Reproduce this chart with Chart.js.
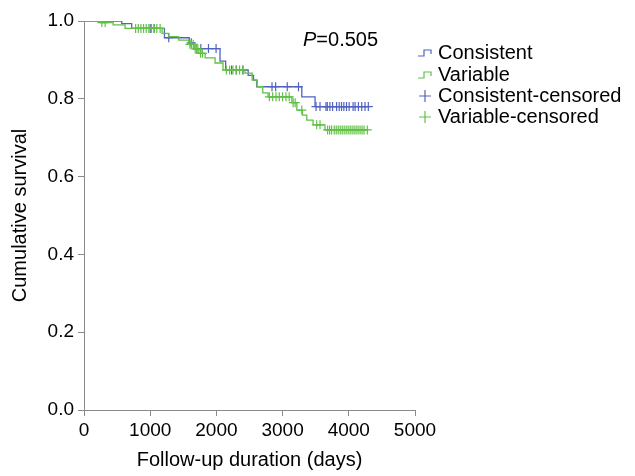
<!DOCTYPE html>
<html lang="en">
<head>
<meta charset="UTF-8" />
<title>Cumulative survival</title>
<script src="https://cdn.jsdelivr.net/npm/chart.js@4.4.0/dist/chart.umd.min.js"></script>
<style>
  html, body { margin: 0; padding: 0; background: #fff; }
  #box { width: 635px; height: 476px; }
</style>
</head>
<body>
<div id="box"><canvas id="km"></canvas></div>
<script>
// Kaplan-Meier steps: time the curve drops, and the level after the drop
const consTimes = [0, 570, 720, 1215, 1590, 1660, 2055, 2140, 2480, 2560, 2610, 3290, 3490];
const consSurv  = [1.0, 0.993, 0.981, 0.957, 0.944, 0.929, 0.897, 0.874, 0.860, 0.848, 0.831, 0.805, 0.780];
const varTimes  = [0, 240, 440, 620, 1180, 1280, 1430, 1580, 1660, 1735, 1830, 1980, 2100, 2430, 2540, 2615, 2700, 2780, 3140, 3215, 3300, 3365, 3460, 3640];
const varSurv   = [1.0, 0.996, 0.990, 0.981, 0.968, 0.960, 0.951, 0.940, 0.928, 0.917, 0.905, 0.892, 0.874, 0.866, 0.848, 0.831, 0.815, 0.805, 0.790, 0.771, 0.758, 0.745, 0.733, 0.720];

// censored observations (days)
const consCensTimes = [1000, 1060, 1280, 1620, 1765, 1880, 1995, 2230, 2300, 2400, 2840, 2895, 3070, 3240,
  3505, 3565, 3655, 3675, 3715, 3755, 3815, 3855, 3890, 3925, 3965, 4005, 4065, 4095, 4145, 4195, 4245, 4295];
const varCensTimes = [270, 320, 780, 820, 860, 900, 940, 980, 1020, 1060, 1100, 1150, 1600, 1620, 1650, 1680, 1700,
  1720, 1760, 1790, 2150, 2200, 2250, 2300, 2350, 2400, 2800, 2850, 2900, 2950, 3000, 3050, 3100, 3160, 3190, 3290,
  3515, 3565, 3680, 3710, 3740, 3780, 3810, 3840, 3870, 3900, 3930, 3960, 3990, 4020, 4050, 4080, 4110, 4140, 4170,
  4200, 4230, 4280];

const xTicks = [0, 1000, 2000, 3000, 4000, 5000];
const yTicks = [0, 0.2, 0.4, 0.6, 0.8, 1.0];
const legendLabels = ['Consistent', 'Variable', 'Consistent-censored', 'Variable-censored'];
const pText = '0.505';

const BLUE = '#5262c2';
const GREEN = '#62c046';
const FONT = "'Liberation Sans', Arial, sans-serif";

// level of the step curve at time t
function levelAt(times, surv, t) {
  let v = surv[0];
  for (let i = 0; i < times.length; i++) {
    if (times[i] <= t) v = surv[i];
  }
  return v;
}

function stepPoints(times, surv, lastCens) {
  const pts = times.map((t, i) => ({ x: t, y: surv[i] }));
  pts.push({ x: lastCens, y: surv[surv.length - 1] });
  return pts;
}

function censPoints(cens, times, surv) {
  return cens.map(t => ({ x: t, y: levelAt(times, surv, t) }));
}

// legend + P value
const extras = {
  id: 'extras',
  afterDraw(chart) {
    const ctx = chart.ctx;
    ctx.save();
    ctx.fillStyle = '#000';
    ctx.textBaseline = 'middle';
    ctx.font = 'italic 20px ' + FONT;
    ctx.fillText('P', 303, 40);
    const w = ctx.measureText('P').width;
    ctx.font = '20px ' + FONT;
    ctx.fillText('=' + pText, 303 + w, 40);

    const colors = [BLUE, GREEN, BLUE, GREEN];
    const rowY = [53, 75, 96, 117];
    legendLabels.forEach((lab, i) => {
      const y = rowY[i];
      const x0 = 418;
      ctx.strokeStyle = colors[i];
      ctx.lineWidth = 1.2;
      ctx.beginPath();
      if (i < 2) {
        ctx.moveTo(x0, y + 3);
        ctx.lineTo(x0 + 6, y + 3);
        ctx.lineTo(x0 + 6, y - 3);
        ctx.lineTo(x0 + 13, y - 3);
        ctx.lineTo(x0 + 13, y + 1);
      } else {
        ctx.moveTo(x0 + 1, y);
        ctx.lineTo(x0 + 13, y);
        ctx.moveTo(x0 + 7, y - 6);
        ctx.lineTo(x0 + 7, y + 6);
      }
      ctx.stroke();
      ctx.fillStyle = '#000';
      ctx.fillText(lab, 438, y);
    });
    ctx.restore();
  }
};

const chart = new Chart(document.getElementById('km'), {
  type: 'scatter',
  data: {
    datasets: [
      {
        label: legendLabels[0],
        data: stepPoints(consTimes, consSurv, consCensTimes[consCensTimes.length - 1]),
        showLine: true, stepped: true, borderColor: BLUE, borderWidth: 1.3,
        pointRadius: 0, fill: false, order: 3
      },
      {
        label: legendLabels[1],
        data: stepPoints(varTimes, varSurv, varCensTimes[varCensTimes.length - 1]),
        showLine: true, stepped: true, borderColor: GREEN, borderWidth: 1.3,
        pointRadius: 0, fill: false, order: 1
      },
      {
        label: legendLabels[2],
        data: censPoints(consCensTimes, consTimes, consSurv),
        showLine: false, pointStyle: 'cross', pointRadius: 4.5, borderColor: BLUE,
        backgroundColor: BLUE, borderWidth: 1.2, order: 2
      },
      {
        label: legendLabels[3],
        data: censPoints(varCensTimes, varTimes, varSurv),
        showLine: false, pointStyle: 'cross', pointRadius: 4.5, borderColor: GREEN,
        backgroundColor: GREEN, borderWidth: 1.2, order: 0
      }
    ]
  },
  options: {
    responsive: true,
    maintainAspectRatio: false,
    animation: false,
    layout: { padding: { top: 21, right: 220, left: 0, bottom: 0 } },
    plugins: { legend: { display: false }, tooltip: { enabled: false } },
    scales: {
      x: {
        type: 'linear', min: 0, max: 5000,
        afterBuildTicks: s => { s.ticks = xTicks.map(v => ({ value: v })); },
        afterFit: s => { s.height = 66; },
        ticks: { color: '#000', font: { family: FONT, size: 19 }, padding: 3, maxRotation: 0,
          callback: v => String(v) },
        title: { display: true, text: 'Follow-up duration (days)', color: '#000',
          font: { family: FONT, size: 20 }, padding: { top: 3 } },
        grid: { drawOnChartArea: false, tickLength: 6, color: '#8a8a8a' },
        border: { color: '#8a8a8a' }
      },
      y: {
        type: 'linear', min: 0, max: 1,
        afterBuildTicks: s => { s.ticks = yTicks.map(v => ({ value: v })); },
        afterFit: s => { s.width = 84; },
        ticks: { color: '#000', font: { family: FONT, size: 19 }, padding: 4,
          callback: v => v.toFixed(1) },
        title: { display: true, text: 'Cumulative survival', color: '#000',
          font: { family: FONT, size: 20 }, padding: { top: 8, bottom: 0 } },
        grid: { drawOnChartArea: false, tickLength: 6, color: '#8a8a8a' },
        border: { color: '#8a8a8a' }
      }
    }
  },
  plugins: [extras]
});
</script>
</body>
</html>
